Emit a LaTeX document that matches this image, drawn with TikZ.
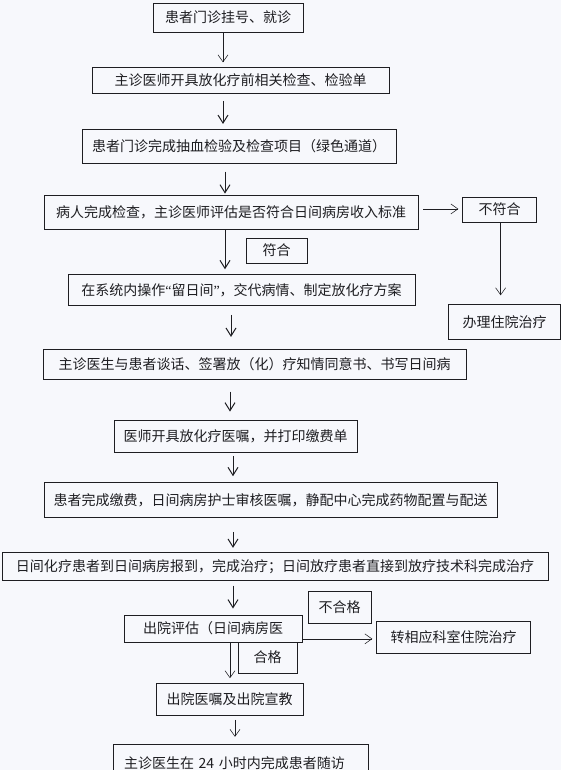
\documentclass[tikz,border=0pt]{standalone}
\usepackage{fontspec}
\setmainfont{Noto Sans CJK SC}
\newfontfamily\quotefont{Liberation Serif}
\usepackage{xcolor}
\usepackage{tikz}
\usetikzlibrary{arrows.meta,positioning}

\definecolor{paper}{RGB}{247,248,252}
\definecolor{ink}{RGB}{30,30,34}

\begin{document}
\begin{tikzpicture}[
x=1pt, y=-1pt,
font=\fontsize{14}{16}\selectfont,
box/.style={draw=ink, line width=0.65pt, text=ink, align=center, inner sep=0pt},
tag/.style={box, minimum height=25pt},
arr/.style={-{Straight Barb[length=8pt,width=10pt]}, line width=1pt, draw=ink},
arrthin/.style={-{Straight Barb[length=7pt,width=10pt]}, line width=0.55pt, draw=ink}
]

\fill[paper] (0,0) rectangle (561,770);
\useasboundingbox (0,0) rectangle (561,770);

% main chain
\node[box, minimum width=150pt, minimum height=29pt] (reg) at (228,17.5) {患者门诊挂号、就诊};
\node[box, minimum width=297pt, minimum height=26pt, below=35pt of reg, xshift=12.5pt] (order) {主诊医师开具放化疗前相关检查、检验单};
\node[box, minimum width=314pt, minimum height=34pt, below=35pt of order, xshift=-1.5pt] (test) {患者门诊完成抽血检验及检查项目（绿色通道）};
\node[box, minimum width=374pt, minimum height=34pt, below=31pt of test, xshift=-8pt] (assess) {病人完成检查，主诊医师评估是否符合日间病房收入标准};
\node[box, minimum width=347pt, minimum height=31pt, below=45pt of assess, xshift=10.5pt] (plan) {在系统内操作{\quotefont “}留日间{\quotefont ”}，交代病情、制定放化疗方案};
\node[box, minimum width=423pt, minimum height=30pt, below=43pt of plan, xshift=13pt] (consent) {主诊医生与患者谈话、签署放（化）疗知情同意书、书写日间病};
\node[box, minimum width=243pt, minimum height=32pt, below=40pt of consent, xshift=-19pt] (orders) {医师开具放化疗医嘱，并打印缴费单};
\node[box, minimum width=453pt, minimum height=35pt, below=30pt of orders, xshift=35pt] (pay) {患者完成缴费，日间病房护士审核医嘱，静配中心完成药物配置与配送};
\node[box, minimum width=546pt, minimum height=28pt, below=34pt of pay, xshift=4.5pt] (treat) {日间化疗患者到日间病房报到，完成治疗；日间放疗患者直接到放疗技术科完成治疗};
\node[box, minimum width=178pt, minimum height=27pt, below=34pt of treat, xshift=-62pt] (eval) {出院评估（日间病房医};
\node[box, minimum width=147pt, minimum height=32pt, below=41pt of eval, xshift=16.5pt] (leave) {出院医嘱及出院宣教};
\node[box, text width=233pt, inner xsep=11pt, align=left, minimum height=38pt, below=28pt of leave, xshift=11pt] (visit) {主诊医生在 24 小时内完成患者随访};

% side branches
\node[tag, minimum width=74pt, right=44pt of assess, yshift=2.5pt] (nofit) {不符合};
\node[box, minimum width=112pt, minimum height=35pt, below=82pt of nofit, xshift=5pt] (admit) {办理住院治疗};
\node[box, minimum width=154pt, minimum height=32pt, right=74pt of eval, yshift=-8.5pt] (transfer) {转相应科室住院治疗};

% decision tags
\node[tag, minimum width=61pt] (fit) at (276.5,250.5) {符合};
\node[tag, minimum width=63pt, minimum height=32pt] (fail) at (339.5,607) {不合格};
\node[tag, minimum width=59pt, minimum height=31pt] (pass) at (267.5,657.5) {合格};

\draw[arrthin, shorten >=5pt] ([xshift=-5pt]reg.south) -- ([xshift=-5pt]reg.south |- order.north);
\draw[arr, shorten <=7pt, shorten >=5pt] ([xshift=-17.5pt]order.south) -- ([xshift=-17.5pt]order.south |- test.north);
\draw[arr, shorten <=8pt, shorten >=1pt] ([xshift=-14pt]test.south) -- ([xshift=-14pt]test.south |- assess.north);
\draw[arr, shorten >=5pt] ([xshift=-6pt]assess.south) -- ([xshift=-6pt]assess.south |- plan.north);
\draw[arrthin, shorten <=5pt, shorten >=4pt] ([yshift=3pt]assess.east) -- ([yshift=3pt]assess.east -| nofit.west);
\draw[arrthin, shorten >=9pt] ([xshift=1pt]nofit.south) -- ([xshift=1pt]nofit.south |- admit.north);
\draw[arr, shorten <=9pt, shorten >=12pt] ([xshift=-10.5pt]plan.south) -- ([xshift=-10.5pt]plan.south |- consent.north);
\draw[arr, shorten <=12pt, shorten >=8pt] ([xshift=-24.5pt]consent.south) -- ([xshift=-24.5pt]consent.south |- orders.north);
\draw[arr, shorten <=4pt, shorten >=6pt] ([xshift=-2.5pt]orders.south) -- ([xshift=-2.5pt]orders.south |- pay.north);
\draw[arr, shorten <=14pt, shorten >=4pt] ([xshift=-37.5pt]pay.south) -- ([xshift=-37.5pt]pay.south |- treat.north);
\draw[arr, shorten <=5pt, shorten >=6pt] ([xshift=-42pt]treat.south) -- ([xshift=-42pt]treat.south |- eval.north);
\draw[arrthin, shorten >=4pt] ([yshift=-10.5pt]eval.east) -- ([yshift=-10.5pt]eval.east -| transfer.west);
\draw[arrthin, shorten <=1pt, shorten >=5pt] ([xshift=17pt]eval.south) -- ([xshift=17pt]eval.south |- leave.north);
\draw[arrthin, shorten <=4pt, shorten >=7pt] ([xshift=5.5pt]leave.south) -- ([xshift=5.5pt]leave.south |- visit.north);

\end{tikzpicture}
\end{document}
